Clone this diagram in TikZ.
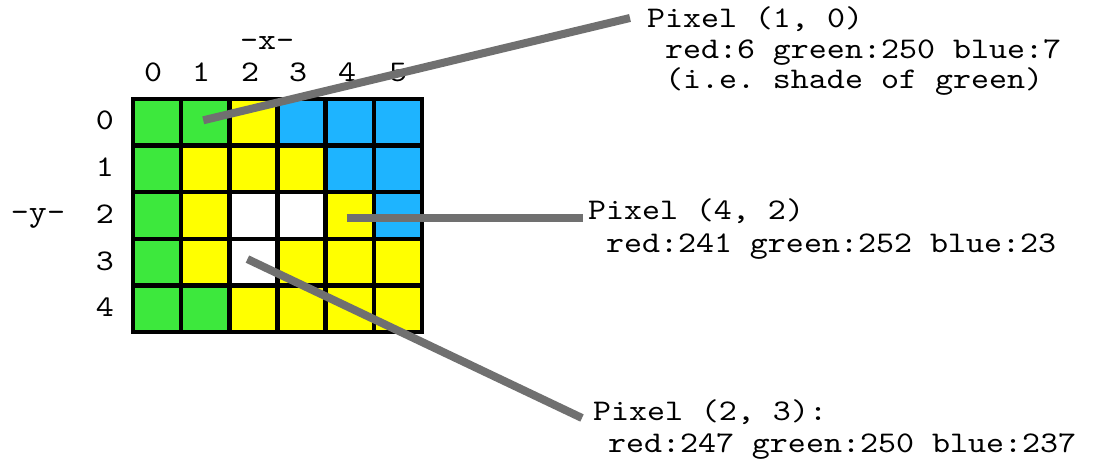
\documentclass[tikz,border=0pt]{standalone}
\usepackage{fontspec}
\setmonofont[Extension=.otf,FakeStretch=1.143]{lmmono10-regular}
\definecolor{cG}{RGB}{61,232,61}
\definecolor{cY}{RGB}{255,255,0}
\definecolor{cB}{RGB}{30,180,255}
\definecolor{cW}{RGB}{255,255,255}
\definecolor{connc}{RGB}{112,112,112}
\begin{document}
\begin{tikzpicture}[x=1pt,y=-1pt,
  cell/.style={draw=black,line width=4.5pt,minimum width=48.17pt,minimum height=46.6pt,inner sep=0pt,outer sep=0pt},
  lbl/.style={font=\fontsize{30}{34}\selectfont\ttfamily,inner sep=0pt,outer sep=0pt},
  txt/.style={lbl,anchor=base west},
  conn/.style={draw=connc,line width=8pt,line cap=butt}]
\fill[white] (0,0) rectangle (1118,470);
\useasboundingbox (0,0) rectangle (1118,470);
% grid
\foreach \row [count=\r from 0] in {{cG,cG,cY,cB,cB,cB},{cG,cY,cY,cY,cB,cB},{cG,cY,cW,cW,cY,cB},{cG,cY,cW,cY,cY,cY},{cG,cG,cY,cY,cY,cY}} {
  \foreach \col [count=\c from 0] in \row {
    \node[cell,fill=\col] (c\c\r) at ({133+48.17*(\c+0.5)},{99+46.6*(\r+0.5)}) {};
  }
}
% axis labels
\foreach \x [count=\i from 0] in {153,201,250,298,347,398} {
  \node[lbl,anchor=base] (cx\i) at (\x,82) {\i};
}
\foreach \y [count=\i from 0] in {130,177,224,270,316} {
  \node[lbl,anchor=base] (ry\i) at (105,\y) {\i};
}
\node[lbl,anchor=base] (xlab) at (267,50) {-x-};
\node[lbl,anchor=base] (ylab) at (38,222) {-y-};
% texts
\node[txt] (t1) at (647,28) {Pixel (1, 0)};
\node[txt] (t1b) at (665,59) {red:6 green:250 blue:7};
\node[txt] (t1c) at (665,89) {(i.e. shade of green)};
\node[txt] (t2) at (588,220) {Pixel (4, 2)};
\node[txt] (t2b) at (606,253) {red:241 green:252 blue:23};
\node[txt] (t3) at (593,420) {Pixel (2, 3):};
\node[txt] (t3b) at (608,452) {red:247 green:250 blue:237};
% connectors
\draw[conn] ([shift={(-2,-2)}]c10.center) -- ([shift={(-17,-10)}]t1.base west);
\draw[conn] ([shift={(-3,2.5)}]c42.center) -- ([shift={(-5,-2)}]t2.base west);
\draw[conn] ([shift={(-6,-3)}]c23.center) -- ([shift={(-11,-2)}]t3.base west);
\end{tikzpicture}
\end{document}
